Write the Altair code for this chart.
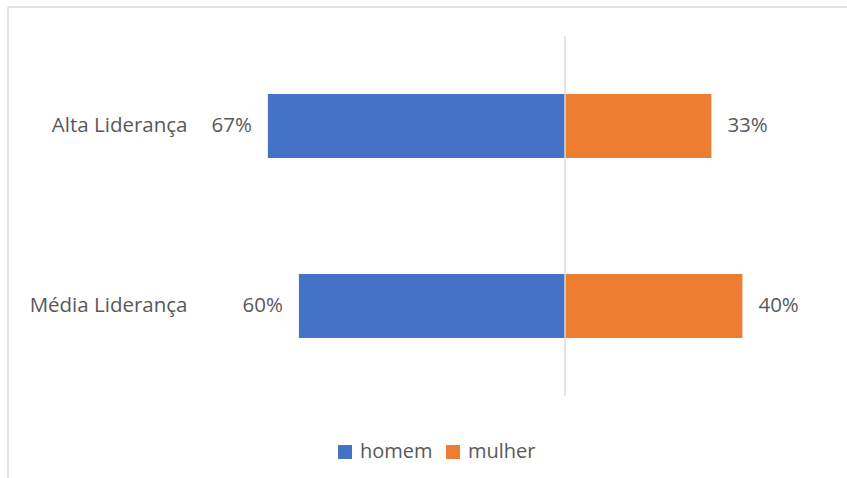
import altair as alt
import pandas as pd

categories = ["Alta Liderança", "Média Liderança"]
homem = [67, 60]
mulher = [33, 40]
genders = ["homem", "mulher"]
colors = ["#4472C4", "#ED7D31"]

rows = []
for c, h, m in zip(categories, homem, mulher):
    rows.append({"cat": c, "gender": "homem", "value": h, "signed": -h, "label": f"{h}%"})
    rows.append({"cat": c, "gender": "mulher", "value": m, "signed": m, "label": f"{m}%"})
df = pd.DataFrame(rows)

FONT = "Open Sans"
TXT = "#595959"
GRID = "#d9d9d9"
FS = 20.5

x_scale = alt.Scale(domain=[-83.2, 62.0], nice=False, zero=False)
y_enc = alt.Y(
    "cat:N",
    sort=categories,
    scale=alt.Scale(paddingInner=0.644, paddingOuter=0.322),
    axis=alt.Axis(title=None, domain=False, ticks=False, tickSize=0, labelPadding=9,
                  labelFontSize=FS, labelColor=TXT, labelFont=FONT),
)

base = alt.Chart(df)

bars = base.mark_bar(cornerRadius=0).encode(
    x=alt.X("signed:Q", scale=x_scale, axis=None),
    x2=alt.datum(0),
    y=y_enc,
    color=alt.Color(
        "gender:N",
        scale=alt.Scale(domain=genders, range=colors),
        legend=alt.Legend(
            title=None, orient="none", legendX=139, legendY=406, direction="horizontal",
            symbolType="square", symbolSize=196, symbolStrokeWidth=0,
            labelFontSize=20, labelColor=TXT, labelFont=FONT, labelOffset=5,
            columnPadding=10,
        ),
    ),
)

left_labels = base.transform_filter(alt.datum.gender == "homem").mark_text(
    align="right", baseline="middle", dx=-16, fontSize=FS, font=FONT, color=TXT
).encode(x=alt.X("signed:Q", scale=x_scale), y=alt.Y("cat:N", sort=categories), text="label:N")

right_labels = base.transform_filter(alt.datum.gender == "mulher").mark_text(
    align="left", baseline="middle", dx=16, fontSize=FS, font=FONT, color=TXT
).encode(x=alt.X("signed:Q", scale=x_scale), y=alt.Y("cat:N", sort=categories), text="label:N")

one = base.transform_aggregate(n="count()")

zero_rule = one.mark_rule(color=GRID, strokeWidth=1.5).encode(
    x=alt.datum(0), y=alt.value(0), y2=alt.value(360)
)

border_left = one.mark_rule(color=GRID, strokeWidth=1.5).encode(
    x=alt.value(-188), y=alt.value(-29), y2=alt.value(460)
)
border_top = one.mark_rule(color=GRID, strokeWidth=1.5).encode(
    x=alt.value(-188), x2=alt.value(700), y=alt.value(-29)
)

chart = alt.layer(border_left, border_top, bars, zero_rule, left_labels, right_labels).properties(
    width=644,
    height=360,
    padding={"left": 196, "top": 36, "right": 7, "bottom": 82},
    autosize=alt.AutoSizeParams(type="none"),
    background="white",
).configure_view(stroke=None)

chart.save("out.html", embed_options={"renderer": "svg", "actions": False})
